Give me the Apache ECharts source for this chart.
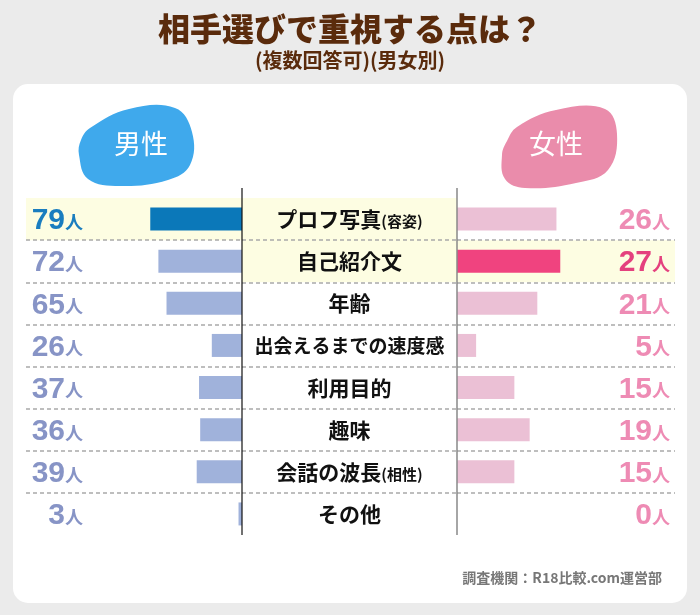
<!DOCTYPE html>
<html>
<head>
<meta charset="utf-8">
<script src="https://cdn.jsdelivr.net/npm/echarts@6/dist/echarts.min.js"></script>
<style>
html,body{margin:0;padding:0;background:#ebebeb;}
#c{width:700px;height:615px;}
</style>
</head>
<body>
<div id="c"></div>
<script>
const categories = ['プロフ写真(容姿)', '自己紹介文', '年齢', '出会えるまでの速度感', '利用目的', '趣味', '会話の波長(相性)', 'その他'];
const maleValues = [79, 72, 65, 26, 37, 36, 39, 3];
const femaleValues = [26, 27, 21, 5, 15, 19, 15, 0];
const unitLabel = '人';
const maleTitle = '男性';
const femaleTitle = '女性';
const titleText = '相手選びで重視する点は？';
const subtitleText = '(複数回答可)(男女別)';
const sourceText = '調査機関：R18比較.com運営部';

const maleTop = maleValues.indexOf(Math.max(...maleValues));
const femaleTop = femaleValues.indexOf(Math.max(...femaleValues));

const CJK = '"Noto Sans CJK JP", "Noto Sans", sans-serif';
const NUM = '"Liberation Sans", Arial, sans-serif';
const HL = '#fdfde2';
const NONE = 'rgba(0,0,0,0)';

const gridTop = 198, gridH = 337;
const dash = {show: true, showMinLine: false, showMaxLine: false, interval: 0,
  lineStyle: {color: '#a9a9a9', width: 1.5, type: [4, 3]}};

function valueRich(c1, c2) {
  return {
    n: {fontFamily: NUM, fontSize: 30, fontWeight: 'bold', color: c1, verticalAlign: 'bottom'},
    u: {fontFamily: CJK, fontSize: 18, fontWeight: 'bold', color: c1, verticalAlign: 'bottom', padding: [0, 0, 5, 0]},
    hn: {fontFamily: NUM, fontSize: 30, fontWeight: 'bold', color: c2, verticalAlign: 'bottom'},
    hu: {fontFamily: CJK, fontSize: 18, fontWeight: 'bold', color: c2, verticalAlign: 'bottom', padding: [0, 0, 5, 0]}
  };
}

const option = {
  backgroundColor: '#ebebeb',
  animation: false,
  title: [
    {text: titleText, left: 'center', top: 8,
     textStyle: {fontFamily: CJK, fontSize: 32, fontWeight: 900, color: '#5a2b0c'},
     subtext: subtitleText, itemGap: 5,
     subtextStyle: {fontFamily: CJK, fontSize: 20, fontWeight: 'bold', color: '#5a2b0c'}},
    {text: sourceText, right: 33, top: 566,
     textStyle: {fontFamily: CJK, fontSize: 14, fontWeight: 'bold', color: '#777777'}}
  ],
  graphic: [
    {type: 'rect', z: -10, shape: {x: 13, y: 84, width: 674, height: 519, r: 15}, style: {fill: '#ffffff'}},
    {type: 'polygon', z: 10, shape: {smooth: 0.4, points: [[90,128],[129,109],[175,108],[192,132],[190,165],[168,180],[120,186],[88,179],[79,155],[81,140]]}, style: {fill: '#3fa9ec'}},
    {type: 'text', z: 11, x: 141, y: 144, style: {text: maleTitle, fontFamily: CJK, fontSize: 27, fill: '#ffffff', align: 'center', verticalAlign: 'middle'}},
    {type: 'polygon', z: 10, shape: {smooth: 0.4, points: [[517,127],[556,110],[605,109],[617,134],[608,170],[576,183],[525,188],[505,179],[502,155],[507,141]]}, style: {fill: '#ea8cab'}},
    {type: 'text', z: 11, x: 556, y: 144, style: {text: femaleTitle, fontFamily: CJK, fontSize: 27, fill: '#ffffff', align: 'center', verticalAlign: 'middle'}},
    {type: 'line', z: 20, shape: {x1: 242, y1: 188, x2: 242, y2: 535}, style: {stroke: '#111', lineWidth: 1.2}},
    {type: 'line', z: 20, shape: {x1: 457, y1: 188, x2: 457, y2: 535}, style: {stroke: '#888', lineWidth: 1.5}}
  ],
  grid: [
    {left: 26, top: gridTop, width: 216, height: gridH},
    {left: 242, top: gridTop, width: 215, height: gridH},
    {left: 457, top: gridTop, width: 218, height: gridH}
  ],
  xAxis: [
    {gridIndex: 0, type: 'value', min: 0, max: 186, inverse: true, show: false},
    {gridIndex: 1, type: 'value', min: 0, max: 1, show: false},
    {gridIndex: 2, type: 'value', min: 0, max: 57, show: false}
  ],
  yAxis: [
    {gridIndex: 0, type: 'category', data: categories, inverse: true, position: 'left',
     axisLine: {show: false}, axisTick: {show: false},
     splitLine: dash,
     splitArea: {show: true, interval: 0, areaStyle: {color: categories.map((c, i) => i === maleTop ? HL : NONE)}},
     axisLabel: {inside: true, margin: 57, align: 'right', interval: 0, padding: [4, 0, 0, 0],
       formatter: (v, i) => i === maleTop ? `{hn|${maleValues[i]}}{hu|${unitLabel}}` : `{n|${maleValues[i]}}{u|${unitLabel}}`,
       rich: valueRich('#8794c6', '#1a7dbf')}},
    {gridIndex: 1, type: 'category', data: categories, inverse: true, position: 'left',
     axisLine: {show: false}, axisTick: {show: false},
     splitLine: dash,
     splitArea: {show: true, interval: 0, areaStyle: {color: categories.map((c, i) => (i === maleTop || i === femaleTop) ? HL : NONE)}},
     axisLabel: {inside: true, margin: 107.5, align: 'center', interval: 0,
       formatter: (v) => {
         const k = v.indexOf('(');
         const main = k >= 0 ? v.slice(0, k) : v;
         const paren = k >= 0 ? v.slice(k) : '';
         const st = main.length > 7 ? 's' : 'a';
         return `{${st}|${main}}` + (paren ? `{p|${paren}}` : '');
       },
       rich: {
         a: {fontFamily: CJK, fontSize: 21, fontWeight: 'bold', color: '#111', verticalAlign: 'bottom'},
         s: {fontFamily: CJK, fontSize: 19, fontWeight: 'bold', color: '#111', verticalAlign: 'bottom'},
         p: {fontFamily: CJK, fontSize: 15, fontWeight: 'bold', color: '#111', verticalAlign: 'bottom', padding: [0, 0, 1, 0]}
       }}},
    {gridIndex: 2, type: 'category', data: categories, inverse: true, position: 'right',
     axisLine: {show: false}, axisTick: {show: false},
     splitLine: dash,
     splitArea: {show: true, interval: 0, areaStyle: {color: categories.map((c, i) => i === femaleTop ? HL : NONE)}},
     axisLabel: {inside: true, margin: 5, align: 'right', interval: 0, padding: [4, 0, 0, 0],
       formatter: (v, i) => i === femaleTop ? `{hn|${femaleValues[i]}}{hu|${unitLabel}}` : `{n|${femaleValues[i]}}{u|${unitLabel}}`,
       rich: valueRich('#ee8bb4', '#e4417e')}}
  ],
  series: [
    {type: 'bar', xAxisIndex: 0, yAxisIndex: 0, data: maleValues, barWidth: 23, silent: true,
     itemStyle: {color: p => p.dataIndex === maleTop ? '#0b78b9' : '#a0b2db'}},
    {type: 'bar', xAxisIndex: 1, yAxisIndex: 1, data: [], silent: true},
    {type: 'bar', xAxisIndex: 2, yAxisIndex: 2, data: femaleValues, barWidth: 23, silent: true,
     itemStyle: {color: p => p.dataIndex === femaleTop ? '#f0437f' : '#ebc0d5'}}
  ]
};

const chart = echarts.init(document.getElementById('c'), null, {renderer: 'canvas'});
chart.setOption(option);
</script>
</body>
</html>
